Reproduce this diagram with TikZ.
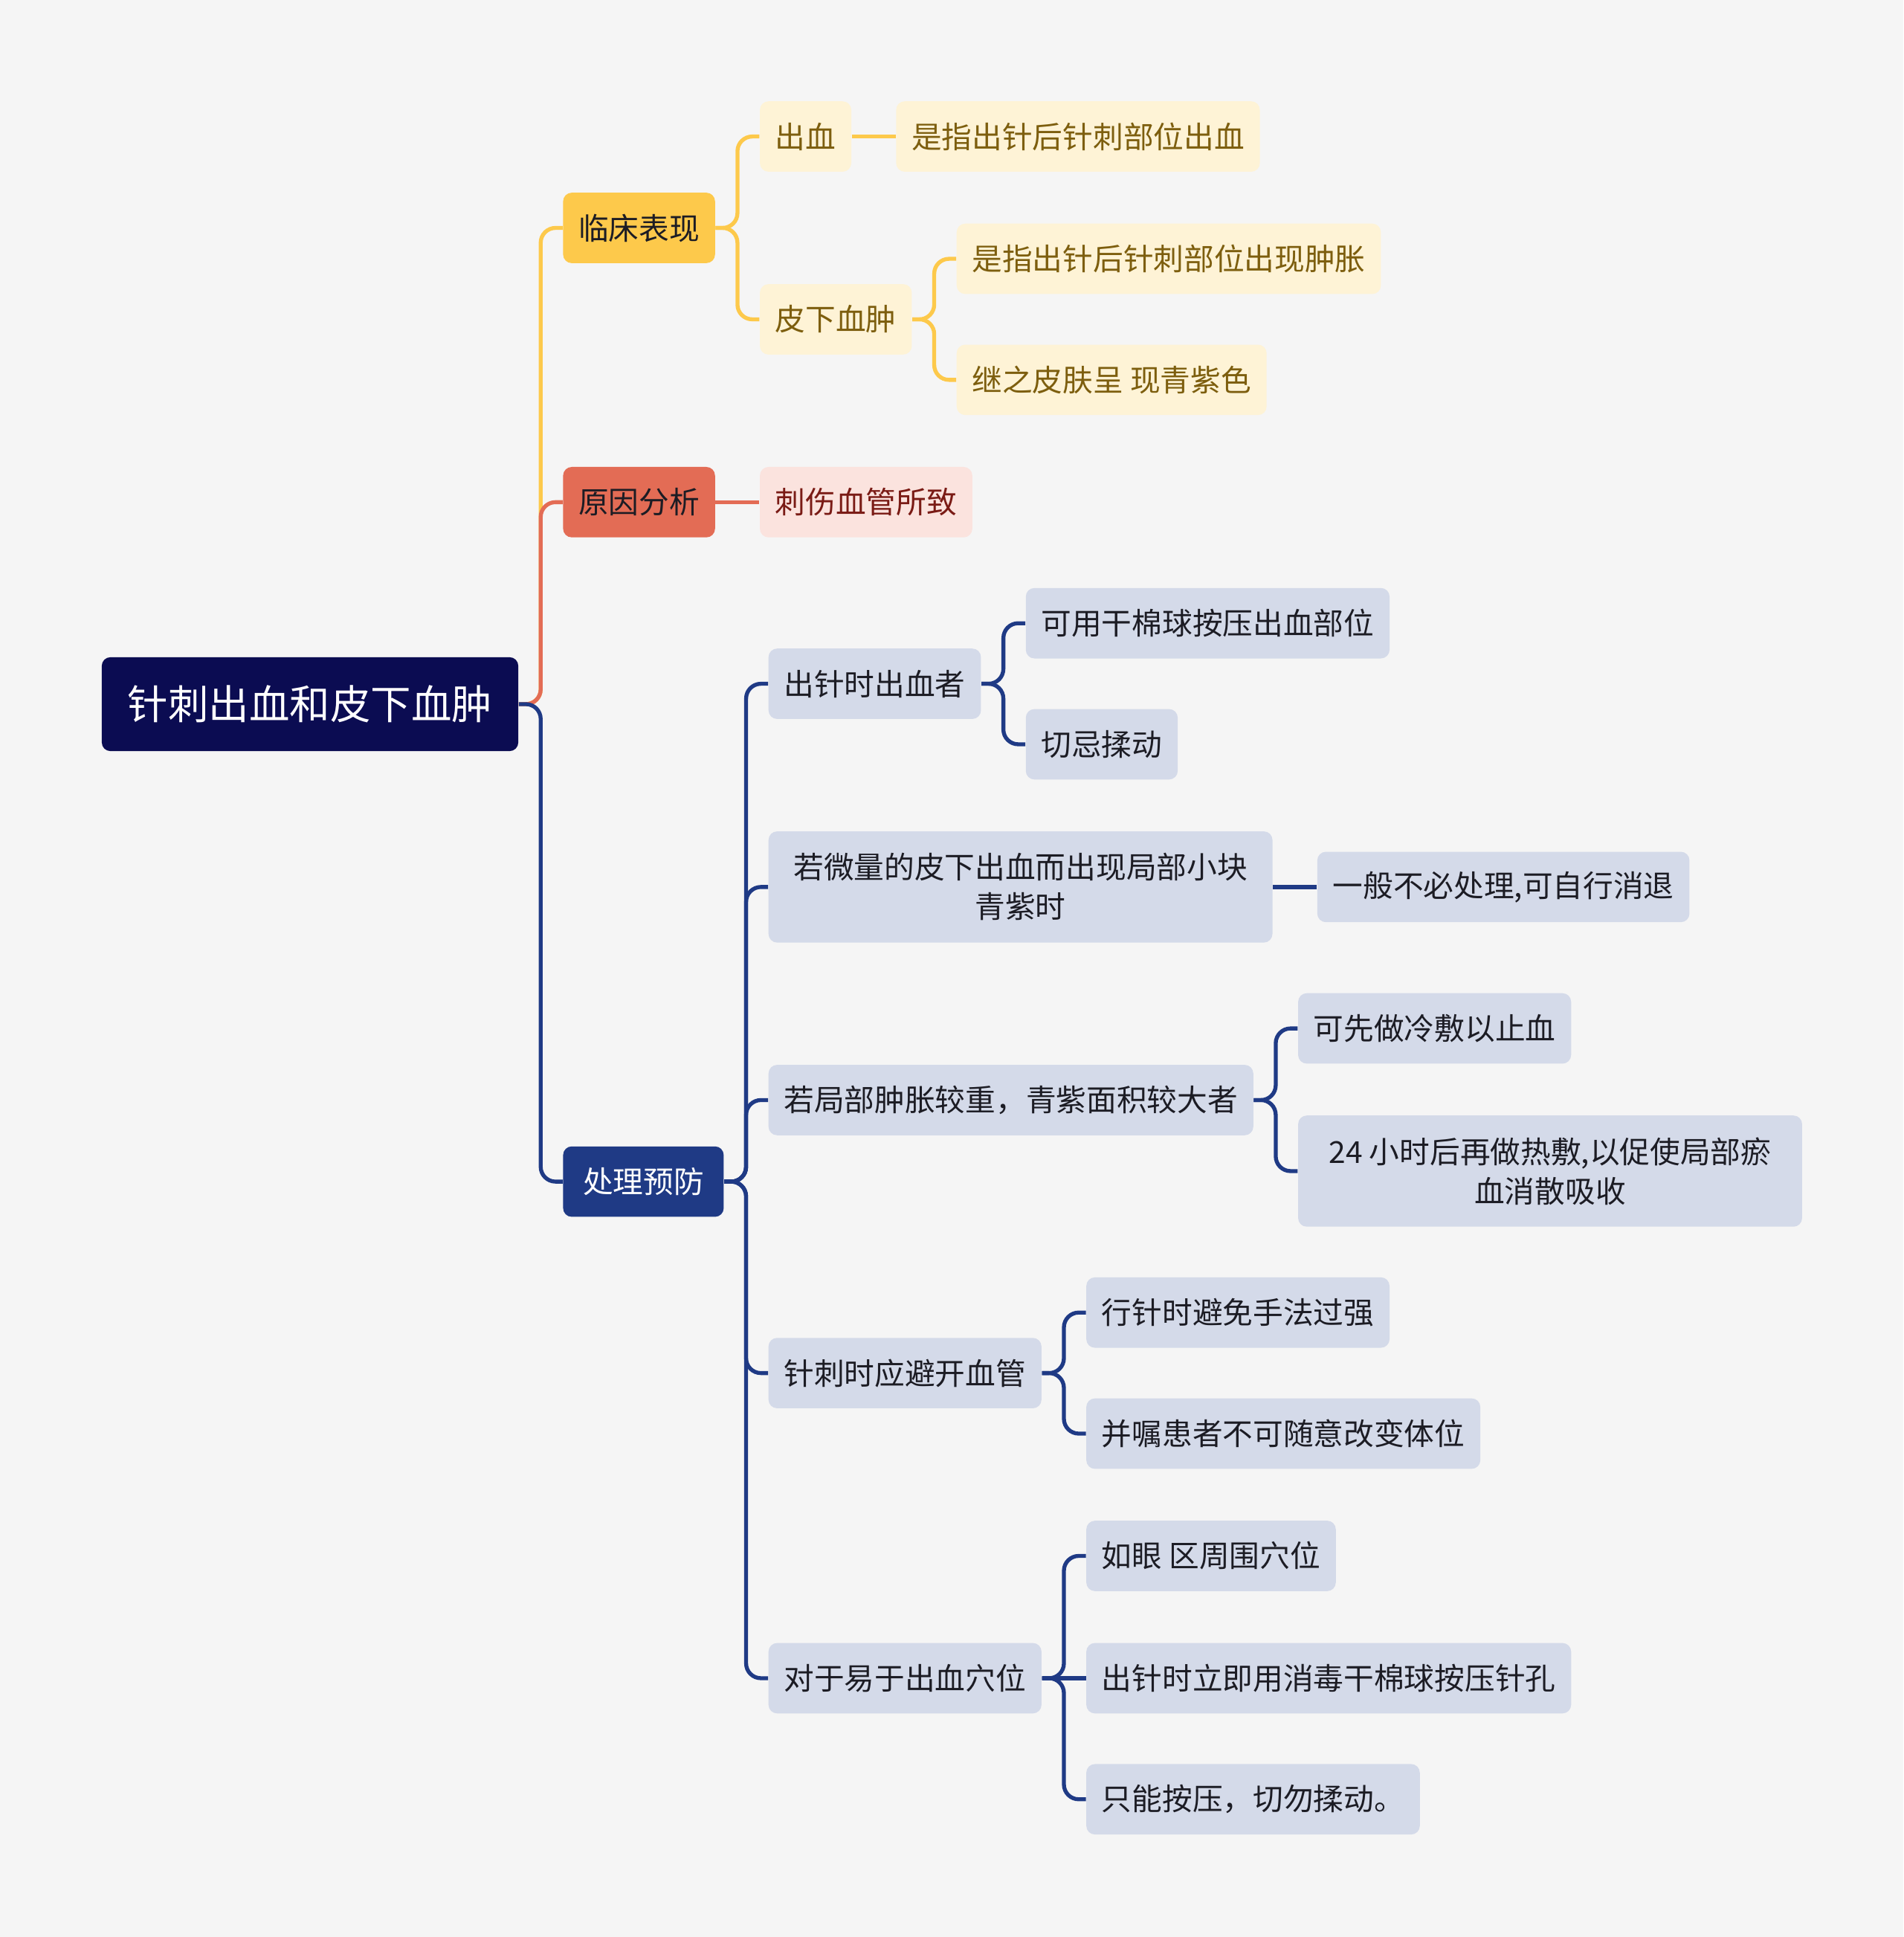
\documentclass[tikz,border=0pt]{standalone}
\usepackage{fontspec}
\setmainfont{Noto Sans CJK SC}
\usepackage{xcolor}
\usetikzlibrary{positioning}
\definecolor{bgc}{HTML}{F5F5F5}
\definecolor{rootc}{HTML}{0B0C52}
\definecolor{colY}{HTML}{FDC94B}
\definecolor{colR}{HTML}{E36C55}
\definecolor{colB}{HTML}{1F3A85}
\definecolor{leafY}{HTML}{FEF3D6}
\definecolor{leafR}{HTML}{FBE3DE}
\definecolor{leafB}{HTML}{D4DAE9}
\definecolor{txtY}{HTML}{7D5E0E}
\definecolor{txtR}{HTML}{7A1B15}
\definecolor{txtD}{HTML}{1C1C24}

\begin{document}
\begin{tikzpicture}[
  node distance=17.75pt,
  every node/.style={font=\fontsize{12.25}{16}\selectfont,align=center},
  box/.style={rounded corners=3.5pt,inner xsep=6.25pt,inner ysep=0pt,minimum height=28.5pt},
  wide/.style={minimum width=204pt,minimum height=45pt},
  rootbox/.style={box,fill=rootc,text=white,inner xsep=10.5pt,minimum height=38pt,
    font=\fontsize{16.4}{20}\selectfont},
  topicy/.style={box,fill=colY,text=txtD},
  topicr/.style={box,fill=colR,text=txtD},
  topicb/.style={box,fill=colB,text=white,minimum width=65pt},
  leafy/.style={box,fill=leafY,text=txtY},
  leafr/.style={box,fill=leafR,text=txtR},
  leafb/.style={box,fill=leafB,text=txtD},
  lny/.style={draw=colY,line width=1.6pt,rounded corners=6pt},
  lnr/.style={draw=colR,line width=1.6pt,rounded corners=6pt},
  lnb/.style={draw=colB,line width=1.6pt,rounded corners=6pt}
]
\fill[bgc] (0,0) rectangle (770.5pt,-784pt);
\useasboundingbox (0,0) rectangle (770.5pt,-784pt);

\node[rootbox,anchor=west] (root) at (41pt,-285pt) {针刺出血和皮下血肿};
\node[topicy,right=of root,yshift=192.75pt] (lcbx) {临床表现};
\node[topicr,right=of root,yshift=81.75pt] (yyfx) {原因分析};
\node[topicb,right=of root,yshift=-193.25pt] (clyf) {处理预防};

% 临床表现
\node[leafy,right=of lcbx,yshift=37pt] (cx) {出血};
\node[leafy,right=of cx] (cxdef) {是指出针后针刺部位出血};
\node[leafy,right=of lcbx,yshift=-37pt] (pxxz) {皮下血肿};
\node[leafy,right=of pxxz,yshift=24.5pt] (pxdef) {是指出针后针刺部位出现肿胀};
\node[leafy,right=of pxxz,yshift=-24.5pt] (pxsk) {继之皮肤呈 现青紫色};
% 原因分析
\node[leafr,right=of yyfx] (csxg) {刺伤血管所致};
% 处理预防
\node[leafb,right=of clyf,yshift=201.5pt] (czcx) {出针时出血者};
\node[leafb,right=of czcx,yshift=24.5pt] (gmq) {可用干棉球按压出血部位};
\node[leafb,right=of czcx,yshift=-24.5pt] (qjrd) {切忌揉动};
\node[leafb,wide,right=of clyf,yshift=119.25pt] (wlcx) {若微量的皮下出血而出现局部小块\\青紫时};
\node[leafb,right=of wlcx] (bbcl) {一般不必处理,可自行消退};
\node[leafb,right=of clyf,yshift=33pt] (jbzz) {若局部肿胀较重，青紫面积较大者};
\node[leafb,right=of jbzz,yshift=29pt] (lf) {可先做冷敷以止血};
\node[leafb,wide,right=of jbzz,yshift=-28.75pt] (rf) {24 小时后再做热敷,以促使局部瘀\\血消散吸收};
\node[leafb,right=of clyf,yshift=-77.5pt] (bkxg) {针刺时应避开血管};
\node[leafb,right=of bkxg,yshift=24.5pt] (sfgq) {行针时避免手法过强};
\node[leafb,right=of bkxg,yshift=-24.5pt] (btwei) {并嘱患者不可随意改变体位};
\node[leafb,right=of clyf,yshift=-201pt] (yxxw) {对于易于出血穴位};
\node[leafb,right=of yxxw,yshift=49.5pt] (yqxw) {如眼 区周围穴位};
\node[leafb,right=of yxxw] (ajk) {出针时立即用消毒干棉球按压针孔};
\node[leafb,right=of yxxw,yshift=-49pt] (qwrd) {只能按压，切勿揉动。};

% links
\draw[lny] (root.east) -- ++(8.875pt,0) |- (lcbx.west);
\draw[lnr] (root.east) -- ++(8.875pt,0) |- (yyfx.west);
\draw[lnb] (root.east) -- ++(8.875pt,0) |- (clyf.west);

\draw[lny] (lcbx.east) -- ++(8.875pt,0) |- (cx.west);
\draw[lny] (lcbx.east) -- ++(8.875pt,0) |- (pxxz.west);
\draw[lny] (cx.east) -- (cxdef.west);
\draw[lny] (pxxz.east) -- ++(8.875pt,0) |- (pxdef.west);
\draw[lny] (pxxz.east) -- ++(8.875pt,0) |- (pxsk.west);
\draw[lnr] (yyfx.east) -- (csxg.west);

\draw[lnb] (clyf.east) -- ++(8.875pt,0) |- (czcx.west);
\draw[lnb] (clyf.east) -- ++(8.875pt,0) |- (wlcx.west);
\draw[lnb] (clyf.east) -- ++(8.875pt,0) |- (jbzz.west);
\draw[lnb] (clyf.east) -- ++(8.875pt,0) |- (bkxg.west);
\draw[lnb] (clyf.east) -- ++(8.875pt,0) |- (yxxw.west);
\draw[lnb] (czcx.east) -- ++(8.875pt,0) |- (gmq.west);
\draw[lnb] (czcx.east) -- ++(8.875pt,0) |- (qjrd.west);
\draw[lnb] (wlcx.east) -- (bbcl.west);
\draw[lnb] (jbzz.east) -- ++(8.875pt,0) |- (lf.west);
\draw[lnb] (jbzz.east) -- ++(8.875pt,0) |- (rf.west);
\draw[lnb] (bkxg.east) -- ++(8.875pt,0) |- (sfgq.west);
\draw[lnb] (bkxg.east) -- ++(8.875pt,0) |- (btwei.west);
\draw[lnb] (yxxw.east) -- ++(8.875pt,0) |- (yqxw.west);
\draw[lnb] (yxxw.east) -- (ajk.west);
\draw[lnb] (yxxw.east) -- ++(8.875pt,0) |- (qwrd.west);
\end{tikzpicture}
\end{document}
